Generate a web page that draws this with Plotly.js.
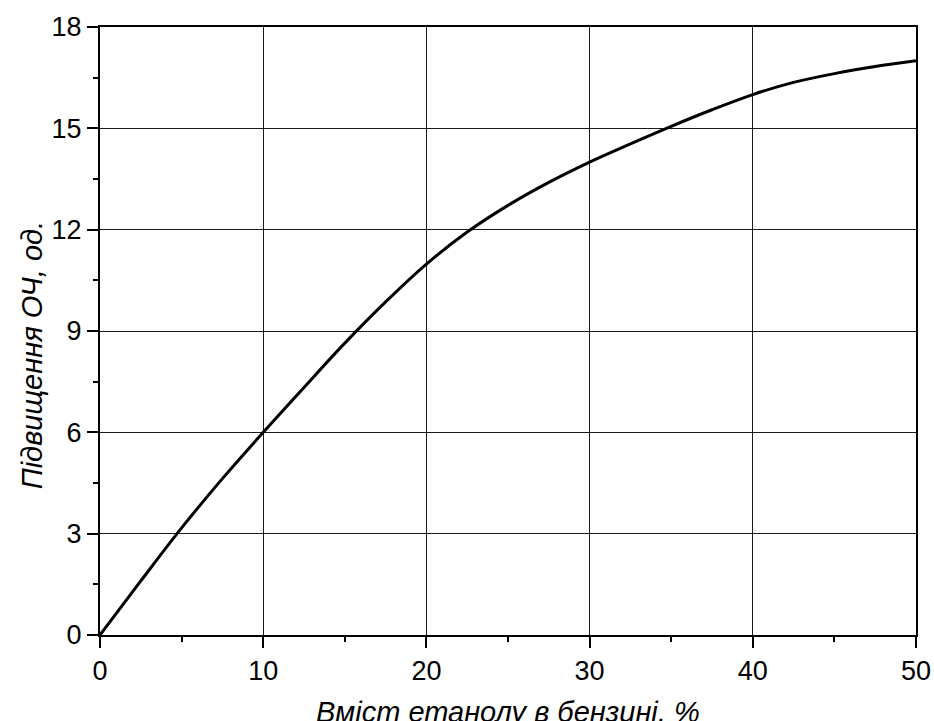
<!DOCTYPE html>
<html>
<head>
<meta charset="utf-8">
<script src="https://cdn.plot.ly/plotly-3.0.1.min.js"></script>
<style>
  html, body { margin: 0; padding: 0; background: #fff; }
  #chart { width: 934px; height: 721px; }
</style>
</head>
<body>
<div id="chart"></div>
<script>
// Ethanol content in gasoline, %
const ethanolPct = [0, 2.5, 5, 7.5, 10, 12.5, 15, 17.5, 20, 22.5, 25, 27.5, 30, 32.5, 35, 37.5, 40, 42.5, 45, 47.5, 50];
// Octane number increase, units
const octaneGain = [0, 1.6, 3.17, 4.63, 6.0, 7.33, 8.64, 9.86, 10.98, 11.93, 12.72, 13.4, 14.0, 14.54, 15.06, 15.55, 16.0, 16.36, 16.62, 16.83, 17.0];

const xTicks = [0, 10, 20, 30, 40, 50];
const yTicks = [0, 3, 6, 9, 12, 15, 18];

const xTitle = 'Вміст етанолу в бензині, %';
const yTitle = 'Підвищення ОЧ, од.';

const fontFamily = '"Liberation Sans", Arial, sans-serif';

const trace = {
  x: ethanolPct,
  y: octaneGain,
  mode: 'lines',
  type: 'scatter',
  line: { color: '#000', width: 3, shape: 'spline', smoothing: 1 },
  hoverinfo: 'skip',
  showlegend: false
};

const axisCommon = {
  showline: true,
  linecolor: '#000',
  linewidth: 2,
  mirror: true,
  ticks: 'outside',
  ticklen: 11,
  tickwidth: 2,
  tickcolor: '#000',
  showgrid: true,
  gridcolor: '#1a1a1a',
  gridwidth: 1,
  zeroline: false,
  tickfont: { family: fontFamily, size: 27, color: '#000' }
};

const layout = {
  width: 934,
  height: 721,
  margin: { l: 100, r: 18, t: 27, b: 86 },
  paper_bgcolor: '#fff',
  plot_bgcolor: '#fff',
  showlegend: false,
  xaxis: Object.assign({}, axisCommon, {
    range: [0, 50],
    tickmode: 'array',
    tickvals: xTicks,
    ticktext: xTicks.map(String),
    minor: { dtick: 5, tick0: 0, ticks: 'outside', ticklen: 5, tickwidth: 2, tickcolor: '#000', showgrid: false }
  }),
  yaxis: Object.assign({}, axisCommon, {
    range: [0, 18],
    tickmode: 'array',
    tickvals: yTicks,
    ticktext: yTicks.map(String),
    ticklabelstandoff: 0,
    minor: { dtick: 1.5, tick0: 0, ticks: 'outside', ticklen: 5, tickwidth: 2, tickcolor: '#000', showgrid: false }
  }),
  annotations: [
    {
      text: xTitle,
      xref: 'paper', yref: 'paper',
      x: 0.5, y: -0.097,
      xanchor: 'center', yanchor: 'top',
      showarrow: false,
      font: { family: fontFamily, size: 29, color: '#000', style: 'italic' }
    },
    {
      text: yTitle,
      xref: 'paper', yref: 'paper',
      x: -0.0833, y: 0.46,
      xanchor: 'center', yanchor: 'middle',
      textangle: -90,
      showarrow: false,
      font: { family: fontFamily, size: 29, color: '#000', style: 'italic' }
    }
  ]
};

Plotly.newPlot('chart', [trace], layout, { staticPlot: true, displayModeBar: false });
</script>
</body>
</html>
